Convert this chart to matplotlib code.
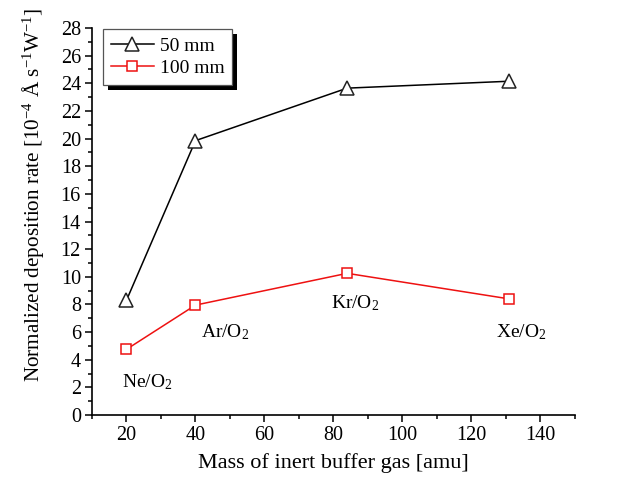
import matplotlib
matplotlib.use("Agg")
import matplotlib.pyplot as plt
from matplotlib.patches import Rectangle
from matplotlib.ticker import MultipleLocator

plt.rcParams["font.family"] = ["Liberation Serif", "DejaVu Serif"]
plt.rcParams["mathtext.fontset"] = "custom"
plt.rcParams["mathtext.rm"] = "Liberation Serif"
plt.rcParams["mathtext.it"] = "Liberation Serif:italic"

# Gas masses (amu) and normalized deposition rates (1e-4 Å s^-1 W^-1)
gas_mass = [20, 40, 84, 131]
gas_names = ["Ne/O$_2$", "Ar/O$_2$", "Kr/O$_2$", "Xe/O$_2$"]
rate_50mm = [8.3, 19.85, 23.65, 24.15]
rate_100mm = [4.75, 7.95, 10.25, 8.4]
label_x = [26, 48.5, 86.3, 134.5]
label_y = [2.4, 6.0, 8.1, 6.0]

fig = plt.figure(figsize=(6.26, 4.84), dpi=100)
ax = fig.add_axes([0.147, 0.1426, 0.771, 0.7995])

ax.plot(gas_mass, rate_50mm, color="black", lw=1.1, marker="^", ms=10,
        mfc="white", mec="#222222", mew=1.1, label="50 mm")
ax.plot(gas_mass, rate_100mm, color="#ee1111", lw=1.1, marker="s", ms=7.5,
        mfc="white", mec="#ee1111", mew=1.1, label="100 mm")

for x, y, s in zip(label_x, label_y, gas_names):
    ax.text(x, y, s, ha="center", va="center", fontsize=14)

ax.set_xlim(10, 150)
ax.set_ylim(0, 28)
ax.xaxis.set_minor_locator(MultipleLocator(10))
ax.yaxis.set_major_locator(MultipleLocator(2))
ax.yaxis.set_minor_locator(MultipleLocator(1))
ax.set_xticks(range(20, 141, 20))
ax.tick_params(which="major", direction="out", length=5, width=1.1,
               labelsize=14.5, pad=3)
ax.tick_params(which="minor", direction="out", length=3, width=1.1)
for side in ("top", "right"):
    ax.spines[side].set_visible(False)
for side in ("left", "bottom"):
    ax.spines[side].set_linewidth(1.2)

ax.set_xlabel("Mass of inert buffer gas [amu]", fontsize=16, labelpad=6)
fig.text(0.053, 0.597,
         r"Normalized deposition rate [10$^{\mathdefault{-4}}$"
         r" Å s$^{\mathdefault{-1}}$W$^{\mathdefault{-1}}$]",
         rotation=90, ha="center", va="center", fontsize=15.2)

leg = ax.legend(loc="upper left", bbox_to_anchor=(0.023, 0.997),
                borderaxespad=0, fontsize=14,
                frameon=True, fancybox=False, edgecolor="#555555",
                framealpha=1, borderpad=0.4, handlelength=2.2,
                handletextpad=0.3, labelspacing=0.25)
leg.get_frame().set_linewidth(0.9)
leg.set_zorder(5)

# Solid drop shadow under the legend box
fig.canvas.draw()
bb = leg.get_window_extent().transformed(fig.transFigure.inverted())
dx, dy = 5 / 626, 5 / 484
ax.add_patch(Rectangle((bb.x0 + dx, bb.y0 - dy), bb.width, bb.height,
                       transform=fig.transFigure, facecolor="black",
                       edgecolor="none", zorder=4, clip_on=False))

fig.savefig("out.png", dpi=100)
